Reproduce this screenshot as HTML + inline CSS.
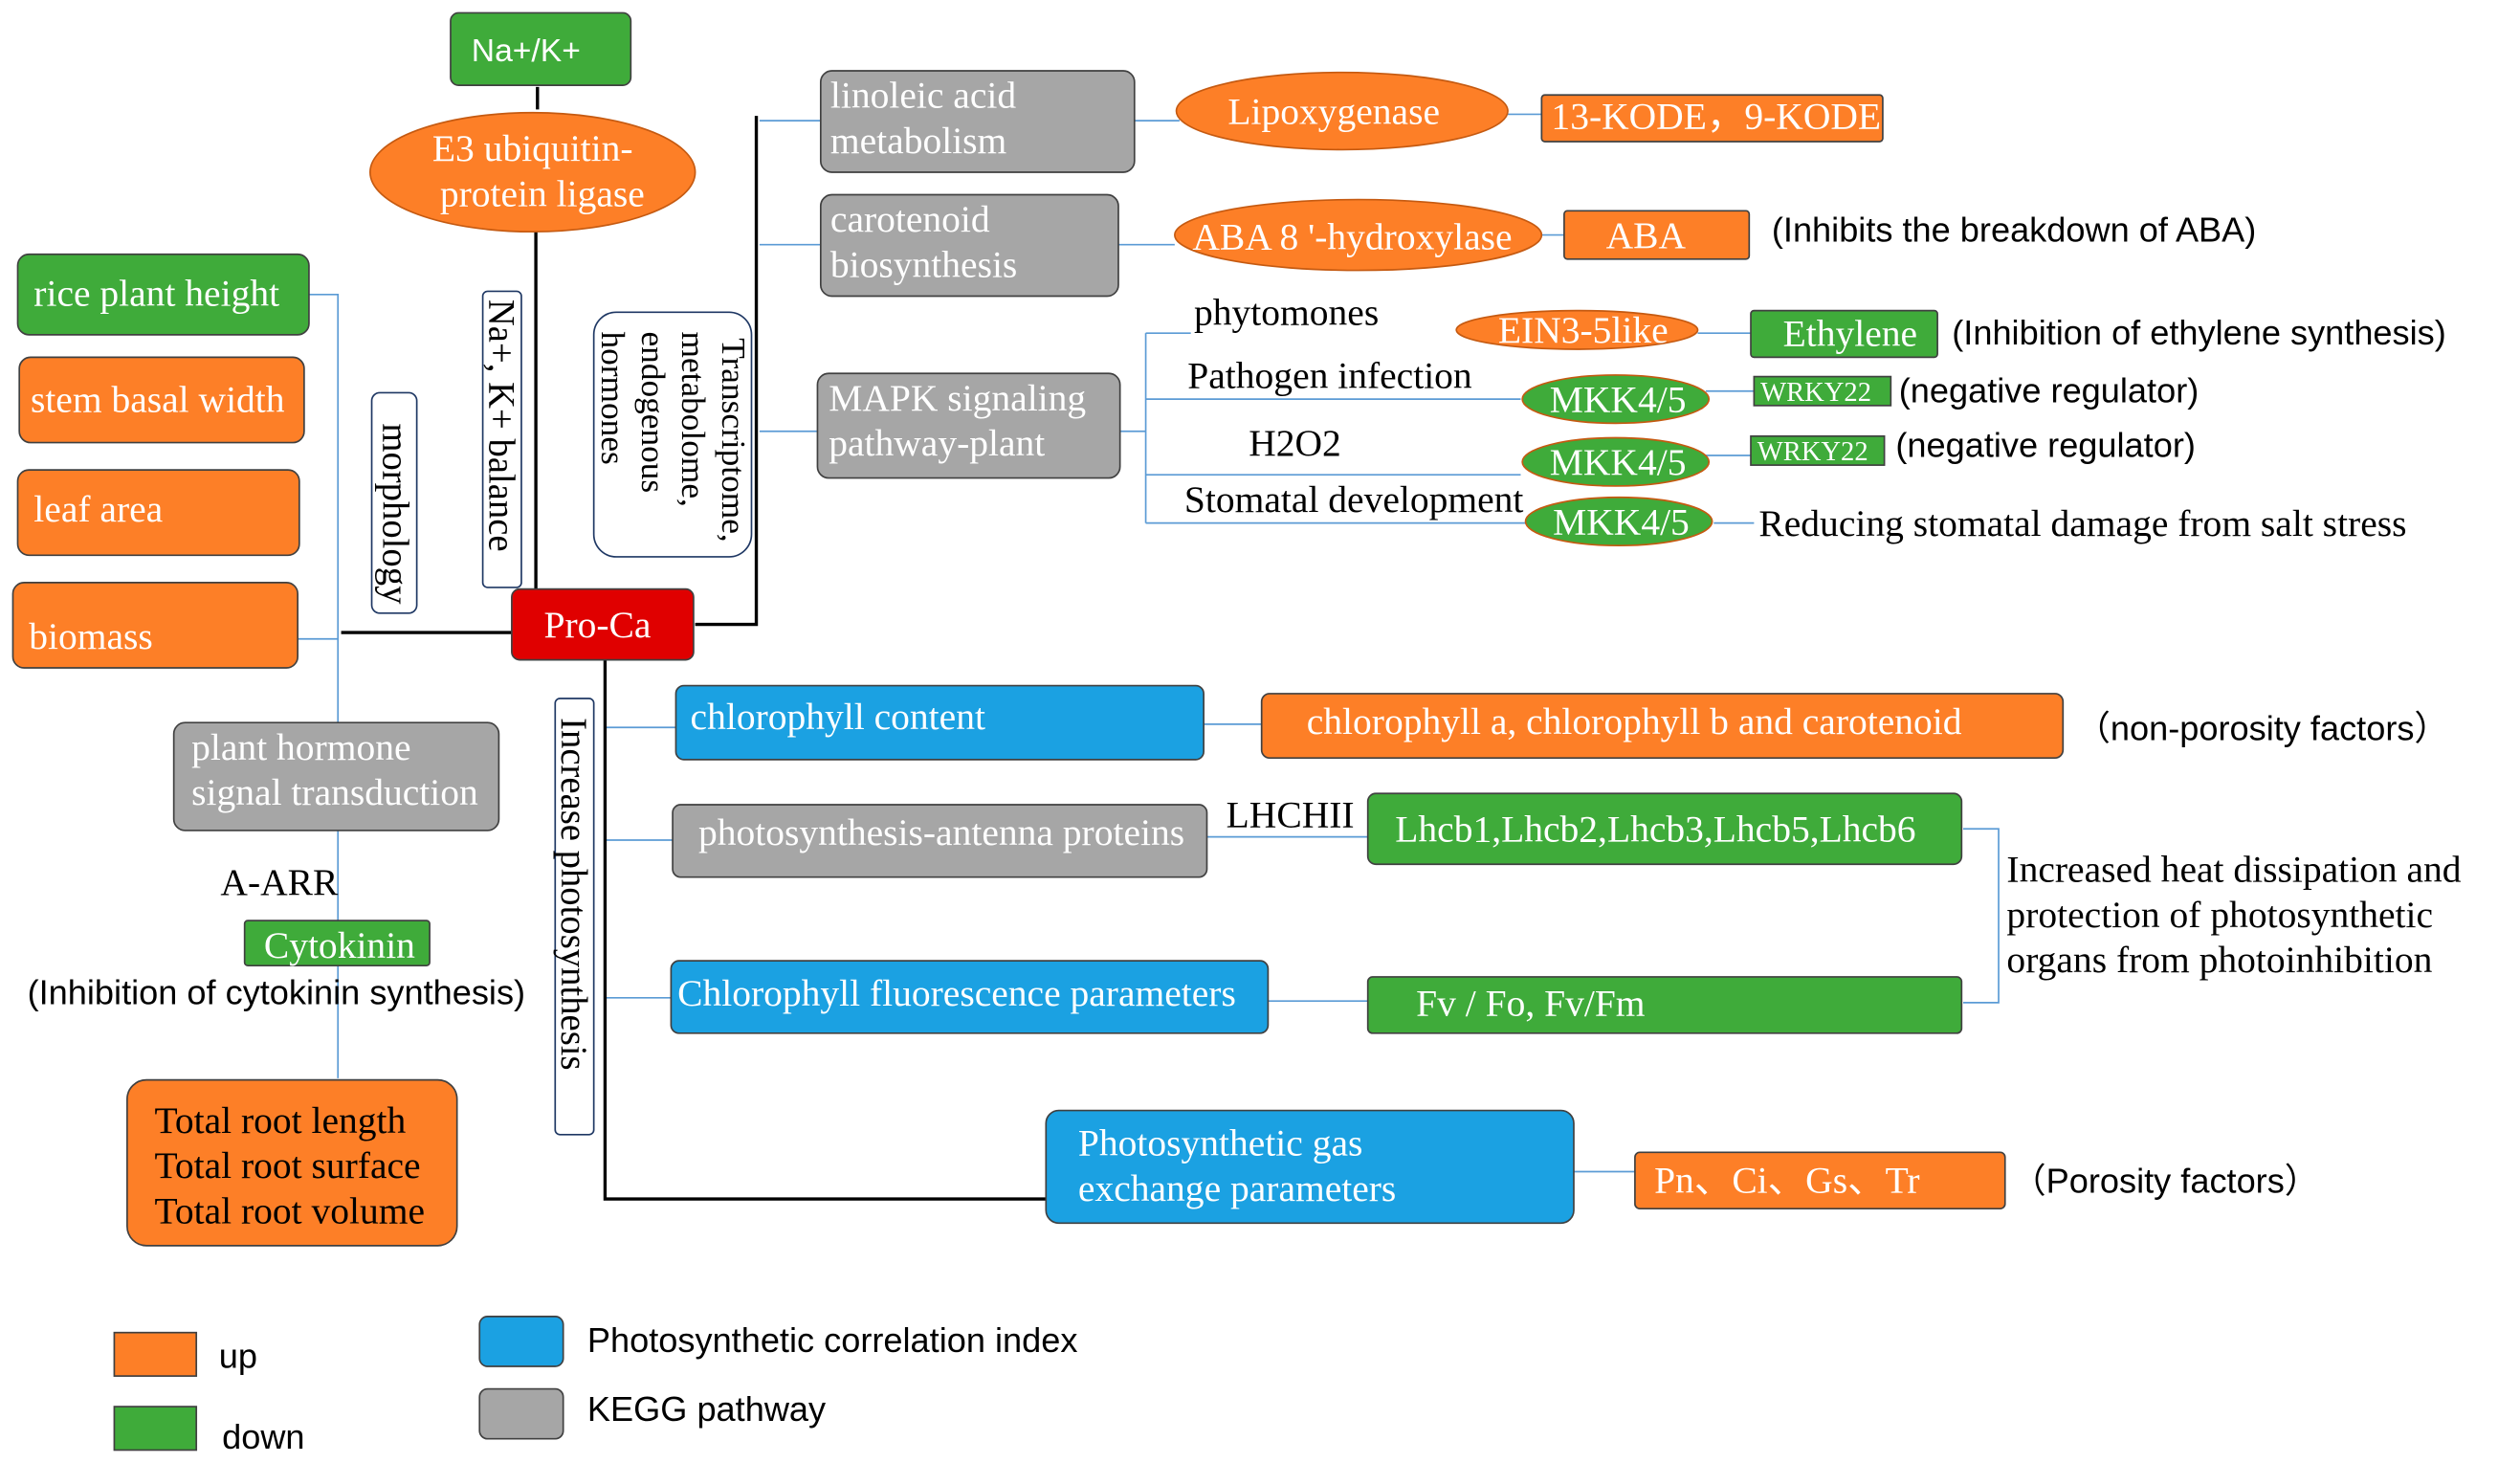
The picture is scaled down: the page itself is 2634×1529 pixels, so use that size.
<!DOCTYPE html>
<html><head><meta charset="utf-8"><style>
html,body{margin:0;padding:0;background:#fff;}
svg{display:block;}
text{font-family:"Liberation Serif",serif;}
.s text, text.s{font-family:"Liberation Sans",sans-serif;}
</style></head><body>
<svg width="2634" height="1529" viewBox="0 0 1566 909" preserveAspectRatio="xMinYMin meet" xmlns="http://www.w3.org/2000/svg">
<g stroke="#5b9bd5" stroke-width="1" fill="none">
<polyline points="192,183 210,183 210,670"/>
<line x1="185" y1="397" x2="210" y2="397"/>
<polyline points="712,207 712,325"/>
<line x1="696" y1="268" x2="712" y2="268"/>
<line x1="712" y1="207" x2="740" y2="207"/>
<line x1="712" y1="248" x2="945" y2="248"/>
<line x1="712" y1="295" x2="945" y2="295"/>
<line x1="712" y1="325" x2="950" y2="325"/>
<line x1="472" y1="75" x2="510" y2="75"/>
<line x1="472" y1="152" x2="510" y2="152"/>
<line x1="472" y1="268" x2="508" y2="268"/>
<line x1="705" y1="75" x2="733" y2="75"/>
<line x1="937" y1="71" x2="958" y2="71"/>
<line x1="695" y1="152" x2="730" y2="152"/>
<line x1="958" y1="146" x2="972" y2="146"/>
<line x1="1055" y1="207" x2="1088" y2="207"/>
<line x1="1060" y1="243" x2="1090" y2="243"/>
<line x1="1060" y1="283" x2="1088" y2="283"/>
<line x1="1065" y1="325" x2="1090" y2="325"/>
<line x1="376" y1="452" x2="420" y2="452"/>
<line x1="376" y1="522" x2="418" y2="522"/>
<line x1="376" y1="620" x2="418" y2="620"/>
<line x1="748" y1="450" x2="784" y2="450"/>
<line x1="750" y1="520" x2="850" y2="520"/>
<line x1="788" y1="622" x2="850" y2="622"/>
<line x1="978" y1="728" x2="1016" y2="728"/>
<polyline points="1220,515 1242,515 1242,623 1220,623"/>
</g>
<g stroke="#000" stroke-width="2" fill="none">
<line x1="334" y1="54" x2="334" y2="68"/>
<line x1="333" y1="143" x2="333" y2="367"/>
<line x1="212" y1="393" x2="318" y2="393"/>
<polyline points="432,388 470,388 470,72"/>
<polyline points="376,410 376,745 650,745"/>
</g>
<g stroke="#404040" stroke-width="1">
<rect x="280" y="8" width="112" height="45" rx="5" fill="#3fab3a"/>
<ellipse cx="331" cy="107" rx="101" ry="37" fill="#fd7f27" stroke="#c55a11"/>
<rect x="11" y="158" width="181" height="50" rx="7" fill="#3fab3a"/>
<rect x="12" y="222" width="177" height="53" rx="7" fill="#fd7f27"/>
<rect x="11" y="292" width="175" height="53" rx="7" fill="#fd7f27"/>
<rect x="8" y="362" width="177" height="53" rx="7" fill="#fd7f27"/>
<rect x="510" y="44" width="195" height="63" rx="7" fill="#a6a6a6"/>
<rect x="510" y="121" width="185" height="63" rx="7" fill="#a6a6a6"/>
<rect x="508" y="232" width="188" height="65" rx="7" fill="#a6a6a6"/>
<rect x="318" y="366" width="113" height="44" rx="5" fill="#e00000"/>
<rect x="108" y="449" width="202" height="67" rx="7" fill="#a6a6a6"/>
<rect x="152" y="572" width="115" height="28" rx="2" fill="#3fab3a"/>
<rect x="79" y="671" width="205" height="103" rx="12" fill="#fd7f27"/>
<rect x="420" y="426" width="328" height="46" rx="5" fill="#1ba1e2"/>
<rect x="784" y="431" width="498" height="40" rx="5" fill="#fd7f27"/>
<rect x="418" y="500" width="332" height="45" rx="5" fill="#a6a6a6"/>
<rect x="850" y="493" width="369" height="44" rx="5" fill="#3fab3a"/>
<rect x="417" y="597" width="371" height="45" rx="5" fill="#1ba1e2"/>
<rect x="850" y="607" width="369" height="35" rx="3" fill="#3fab3a"/>
<rect x="650" y="690" width="328" height="70" rx="8" fill="#1ba1e2"/>
<rect x="1016" y="716" width="230" height="35" rx="3" fill="#fd7f27"/>
<ellipse cx="834" cy="69" rx="103" ry="24" fill="#fd7f27" stroke="#c55a11"/>
<rect x="958" y="59" width="212" height="29" rx="2" fill="#fd7f27"/>
<ellipse cx="844" cy="146" rx="114" ry="22" fill="#fd7f27" stroke="#c55a11"/>
<rect x="972" y="131" width="115" height="30" rx="2" fill="#fd7f27"/>
<ellipse cx="980" cy="205" rx="75" ry="12" fill="#fd7f27" stroke="#c55a11"/>
<rect x="1088" y="193" width="116" height="29" rx="2" fill="#3fab3a"/>
<ellipse cx="1004" cy="248" rx="58" ry="15" fill="#3fab3a" stroke="#c55a11"/>
<rect x="1090" y="234" width="85" height="18" fill="#3fab3a"/>
<ellipse cx="1004" cy="287" rx="58" ry="15" fill="#3fab3a" stroke="#c55a11"/>
<rect x="1088" y="271" width="83" height="18" fill="#3fab3a"/>
<ellipse cx="1006" cy="324" rx="58" ry="15" fill="#3fab3a" stroke="#c55a11"/>
<rect x="71" y="828" width="51" height="27" fill="#fd7f27"/>
<rect x="71" y="874" width="51" height="27" fill="#3fab3a"/>
<rect x="298" y="818" width="52" height="31" rx="5" fill="#1ba1e2"/>
<rect x="298" y="863" width="52" height="31" rx="5" fill="#a6a6a6"/>
</g>
<g stroke="#1f3864" stroke-width="1" fill="#fff">
<rect x="231" y="244" width="28" height="137" rx="5"/>
<rect x="300" y="181" width="24" height="184" rx="3"/>
<rect x="369" y="194" width="98" height="152" rx="14"/>
<rect x="345" y="434" width="24" height="271" rx="3"/>
</g>
<g font-size="23" fill="#000">
<text transform="translate(238,263) rotate(90)">morphology</text>
<text transform="translate(304,186) rotate(90)">Na+, K+ balance</text>
<text transform="translate(349,446) rotate(90)">Increase photosynthesis</text>
</g>
<g font-size="21" fill="#000">
<text transform="translate(449,210) rotate(90)">Transcriptome,</text>
<text transform="translate(424,206) rotate(90)">metabolome,</text>
<text transform="translate(399,206) rotate(90)">endogenous</text>
<text transform="translate(374,206) rotate(90)">hormones</text>
</g>
<g font-size="23.5" fill="#fff">
<text x="293" y="38" class="s" font-size="20">Na+/K+</text>
<text x="331" y="100" text-anchor="middle">E3 ubiquitin-</text>
<text x="337" y="128" text-anchor="middle">protein ligase</text>
<text x="21" y="190">rice plant height</text>
<text x="19" y="256">stem basal width</text>
<text x="21" y="324">leaf area</text>
<text x="18" y="403">biomass</text>
<text x="516" y="67">linoleic acid</text>
<text x="516" y="95">metabolism</text>
<text x="516" y="144">carotenoid</text>
<text x="516" y="172">biosynthesis</text>
<text x="515" y="255">MAPK signaling</text>
<text x="515" y="283">pathway-plant</text>
<text x="338" y="396">Pro-Ca</text>
<text x="119" y="472">plant hormone</text>
<text x="119" y="500">signal transduction</text>
<text x="164" y="595">Cytokinin</text>
<text x="96" y="704" fill="#000">Total root length</text>
<text x="96" y="732" fill="#000">Total root surface</text>
<text x="96" y="760" fill="#000">Total root volume</text>
<text x="429" y="453">chlorophyll content</text>
<text x="812" y="456">chlorophyll a, chlorophyll b and carotenoid</text>
<text x="434" y="525">photosynthesis-antenna proteins</text>
<text x="867" y="523">Lhcb1,Lhcb2,Lhcb3,Lhcb5,Lhcb6</text>
<text x="421" y="625">Chlorophyll fluorescence  parameters</text>
<text x="880" y="631">Fv / Fo,  Fv/Fm</text>
<text x="670" y="718">Photosynthetic gas</text>
<text x="670" y="746">exchange parameters</text>
<text x="1028" y="741">Pn、Ci、Gs、Tr</text>
<text x="763" y="77">Lipoxygenase</text>
<text x="964" y="80">13-KODE，9-KODE</text>
<text x="741" y="155">ABA 8 '-hydroxylase</text>
<text x="998" y="154">ABA</text>
<text x="931" y="213">EIN3-5like</text>
<text x="1108" y="215">Ethylene</text>
<text x="963" y="256">MKK4/5</text>
<text x="963" y="295">MKK4/5</text>
<text x="965" y="332">MKK4/5</text>
<text x="1094" y="249" font-size="17">WRKY22</text>
<text x="1092" y="286" font-size="17">WRKY22</text>
</g>
<g font-size="23.5" fill="#000">
<text x="742" y="202">phytomones</text>
<text x="738" y="241">Pathogen infection</text>
<text x="776" y="283">H2O2</text>
<text x="736" y="318">Stomatal development</text>
<text x="1093" y="333">Reducing stomatal damage from salt stress</text>
<text x="137" y="556">A-ARR</text>
<text x="762" y="514">LHCHII</text>
<text x="1247" y="548">Increased heat dissipation and</text>
<text x="1247" y="576">protection of photosynthetic</text>
<text x="1247" y="604">organs from photoinhibition</text>
</g>
<g class="s" font-size="21.5" fill="#000">
<text x="1101" y="150">(Inhibits the breakdown of ABA)</text>
<text x="1213" y="214">(Inhibition of ethylene synthesis)</text>
<text x="1180" y="250">(negative regulator)</text>
<text x="1178" y="284">(negative regulator)</text>
<text x="17" y="624">(Inhibition of cytokinin synthesis)</text>
<text x="1290" y="460">（non-porosity factors）</text>
<text x="1250" y="741">（Porosity factors）</text>
<text x="136" y="850">up</text>
<text x="138" y="900">down</text>
<text x="365" y="840">Photosynthetic correlation index</text>
<text x="365" y="883">KEGG pathway</text>
</g>
</svg>
</body></html>
